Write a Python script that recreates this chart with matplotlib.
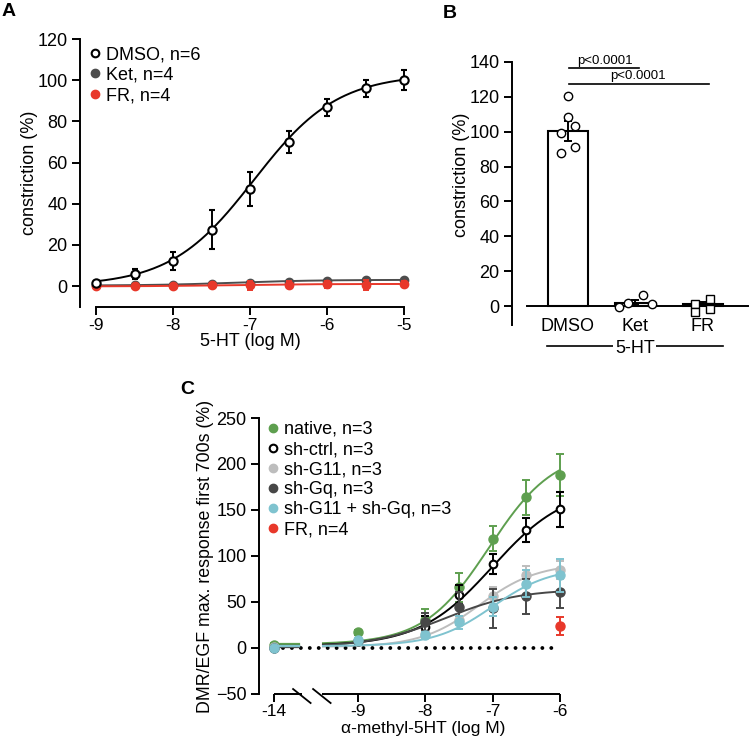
import numpy as np
import matplotlib
matplotlib.use('Agg')
import matplotlib.pyplot as plt
from matplotlib.lines import Line2D

plt.rcParams['font.family'] = ['Liberation Sans', 'DejaVu Sans']

W, H = 750, 742

# ---------------- Panel A data ----------------
a_dose = [-9, -8.5, -8, -7.5, -7, -6.5, -6, -5.5, -5]
a_dmso = [1.6, 5.8, 12.1, 27.4, 47.3, 69.8, 86.8, 96.0, 100.2]
a_dmso_err = [0.8, 2.4, 4.5, 9.5, 8.3, 5.4, 4.0, 4.2, 4.8]
a_ket = [0.5, 0.4, 0.6, 1.0, 1.6, 2.1, 2.3, 2.7, 2.8]
a_ket_err = [0.4, 0.4, 0.5, 0.6, 0.8, 0.9, 1.0, 1.1, 1.2]
a_fr = [-0.2, -0.1, 0.0, 0.5, 0.3, 0.6, 0.8, 0.6, 0.9]
a_fr_err = [0.5, 0.5, 0.6, 0.9, 2.0, 1.8, 1.6, 2.3, 1.6]
# fit parameters: bottom, top, logEC50, hill
a_fit_dmso = (0.0, 103.0, -6.95, 0.8)
a_fit_ket = (0.2, 3.0, -7.2, 0.8)
a_fit_fr = (-0.2, 1.0, -7.3, 0.8)
a_labels = ['DMSO, n=6', 'Ket, n=4', 'FR, n=4']

# ---------------- Panel B data ----------------
b_groups = ['DMSO', 'Ket', 'FR']
b_means = [100.5, 2.0, 1.0]
b_sem = [5.6, 1.4, 1.2]
b_dmso_pts = [120.5, 108.6, 99.3, 103.3, 88.0, 91.4]
b_dmso_jit = [0.0, 0.0, -0.11, 0.11, -0.11, 0.11]
b_ket_pts = [-0.4, 1.9, 6.3, 1.1]
b_ket_jit = [-0.24, -0.11, 0.11, 0.24]
b_fr_pts = [1.4, -3.2, 4.3, -1.6]
b_fr_jit = [-0.11, -0.11, 0.11, 0.11]
b_pvals = ['p<0.0001', 'p<0.0001']

# ---------------- Panel C data ----------------
c_dose = [-14, -9, -8, -7.5, -7, -6.5, -6]
c_native = [3, 17, 30, 66, 119, 164, 188]
c_native_err = [2, 3, 12, 16, 14, 19, 23]
c_ctrl = [0, 8, 23, 58, 91, 128, 151]
c_ctrl_err = [1, 2, 12, 10, 11, 13, 19]
c_g11 = [1, 8, 15, 30, 56, 79, 85]
c_g11_err = [1, 2, 4, 5, 10, 10, 10]
c_gq = [0, 8, 28, 45, 43, 56, 61]
c_gq_err = [1, 2, 10, 16, 21, 19, 17]
c_both = [0, 9, 14, 28, 45, 70, 79]
c_both_err = [1, 2, 3, 7, 10, 15, 18]
c_fr_dose = [-6]
c_fr = [24]
c_fr_err = [10]
c_fit_native = (4, 215, -7.05, 0.9)
c_fit_ctrl = (2, 175, -7.0, 0.8)
c_fit_g11 = (1, 92, -7.2, 1.0)
c_fit_gq = (1, 64, -7.7, 0.8)
c_fit_both = (2, 88, -7.0, 1.0)
c_labels = ['native, n=3', 'sh-ctrl, n=3', 'sh-G11, n=3', 'sh-Gq, n=3',
            'sh-G11 + sh-Gq, n=3', 'FR, n=4']
c_xticks = [-14, -9, -8, -7, -6]

GREEN = '#5e9f4f'
LGRAY = '#bdbdbd'
DGRAY = '#474747'
LBLUE = '#7fc3cf'
RED = '#e8382a'
KGRAY = '#4d4d4d'


def hill(x, p):
    b, t, ec, h = p
    return b + (t - b) / (1 + 10 ** ((ec - x) * h))


def fx(px):
    return px / W


def fy(py):
    return 1 - py / H


fig = plt.figure(figsize=(7.5, 7.42), dpi=100)

TICK = 13
LAB = 13
LW = 1.4

def style(ax):
    for s in ['top', 'right']:
        ax.spines[s].set_visible(False)
    for s in ['left', 'bottom']:
        ax.spines[s].set_linewidth(LW)
    ax.tick_params(direction='out', length=6, width=LW, labelsize=TICK, pad=3)

# ================= Panel A =================
axA = fig.add_axes([fx(80), fy(307), fx(404) - fx(80), fy(39) - fy(307)])
style(axA)
axA.set_xlim(-9.21, -5.0)
axA.set_ylim(-10.2, 120)
axA.spines['left'].set_bounds(-10.2, 120)
axA.spines['bottom'].set_bounds(-9, -5)
axA.set_yticks(range(0, 121, 20))
axA.set_xticks([-9, -8, -7, -6, -5])
axA.set_xticklabels(['-9', '-8', '-7', '-6', '-5'])
axA.tick_params(axis='x', pad=2, labelsize=12.5)
xs = np.linspace(-9, -5, 200)
axA.plot(xs, hill(xs, a_fit_ket), color=KGRAY, lw=1.4, clip_on=False, zorder=2)
axA.plot(xs, hill(xs, a_fit_fr), color=RED, lw=1.4, clip_on=False, zorder=3)
axA.plot(xs, hill(xs, a_fit_dmso), color='black', lw=1.4, clip_on=False, zorder=4)
axA.errorbar(a_dose, a_ket, yerr=a_ket_err, fmt='o', color=KGRAY, ms=6,
             capsize=2.5, elinewidth=1.4, capthick=1.4, clip_on=False, zorder=5)
axA.errorbar(a_dose, a_fr, yerr=a_fr_err, fmt='o', color=RED, ms=6,
             capsize=2.5, elinewidth=1.4, capthick=1.4, clip_on=False, zorder=6)
axA.errorbar(a_dose, a_dmso, yerr=a_dmso_err, fmt='o', color='black', mfc='white',
             mec='black', mew=1.5, ms=6, capsize=2.5, elinewidth=1.4, capthick=1.4,
             clip_on=False, zorder=7)
hA = [Line2D([], [], marker='o', ls='none', mfc='white', mec='black', mew=1.5, ms=5.5),
      Line2D([], [], marker='o', ls='none', color=KGRAY, ms=6),
      Line2D([], [], marker='o', ls='none', color=RED, ms=6)]
axA.legend(hA, a_labels, loc='upper left', bbox_to_anchor=(fx(88), fy(46)),
           bbox_transform=fig.transFigure, frameon=False, fontsize=LAB,
           handlelength=0.8, handletextpad=0.2, labelspacing=0.2,
           borderpad=0, borderaxespad=0)
fig.text(fx(29), fy(173), 'constriction (%)', rotation=90, ha='center', va='center',
         fontsize=LAB)
fig.text(fx(250), fy(333), '5-HT (log M)', ha='center', va='top', fontsize=LAB)
fig.text(fx(9), fy(12), 'A', ha='center', va='center', fontsize=14, fontweight='bold')

# ================= Panel B =================
axB = fig.add_axes([fx(512), fy(325), fx(748) - fx(512), fy(62) - fy(325)])
style(axB)
axB.spines['bottom'].set_visible(False)
axB.set_xlim(-0.83, 2.67)
axB.set_ylim(-10.9, 140)
axB.set_yticks(range(0, 141, 20))
axB.set_xticks([])
xpos = np.arange(len(b_groups))
axB.bar(xpos, b_means, width=0.6, color='white', edgecolor='black', linewidth=1.5,
        zorder=2)
axB.errorbar(xpos, b_means, yerr=b_sem, fmt='none', ecolor='black', elinewidth=1.4,
             capsize=3, capthick=1.4, zorder=4)
axB.plot([-0.61, 2.67], [0, 0], color='black', lw=1.4, clip_on=False, zorder=3)
axB.plot(xpos[0] + np.array(b_dmso_jit), b_dmso_pts, 'o', mfc='white', mec='black',
         mew=1.0, ms=6, zorder=5)
axB.plot(xpos[1] + np.array(b_ket_jit), b_ket_pts, 'o', mfc='white', mec='black',
         mew=1.0, ms=6, clip_on=False, zorder=5)
axB.plot(xpos[2] + np.array(b_fr_jit), b_fr_pts, 's', mfc='white', mec='black',
         mew=1.0, ms=5.5, clip_on=False, zorder=5)
for i, g in enumerate(b_groups):
    axB.text(xpos[i], -14.2, g, ha='center', va='baseline', fontsize=LAB, clip_on=False)
axB.plot([-0.31, 2.30], [-22.8, -22.8], color='black', lw=1.2, clip_on=False)
axB.text(0.99, -27.0, '5-HT', ha='center', va='baseline', fontsize=LAB,
         bbox=dict(facecolor='white', edgecolor='none', pad=1), clip_on=False)
axB.plot([0.02, 1.05], [136.4, 136.4], color='black', lw=1.2, clip_on=False)
axB.plot([0.02, 2.09], [127.2, 127.2], color='black', lw=1.2, clip_on=False)
axB.text(0.55, 137.3, b_pvals[0], ha='center', va='bottom', fontsize=9.5)
axB.text(1.04, 128.3, b_pvals[1], ha='center', va='bottom', fontsize=9.5)
fig.text(fx(462), fy(175), 'constriction (%)', rotation=90, ha='center', va='center',
         fontsize=LAB)
fig.text(fx(450), fy(13), 'B', ha='center', va='center', fontsize=14, fontweight='bold')

# ================= Panel C =================
XB = -10.25  # plotted position of -14 (broken axis)


def cpos(d):
    d = np.asarray(d, dtype=float)
    return np.where(d < -10, XB, d)


axC = fig.add_axes([fx(259), fy(694), fx(566) - fx(259), fy(418) - fy(694)])
style(axC)
axC.spines['bottom'].set_visible(False)
axC.set_xlim(-10.47, -5.91)
axC.set_ylim(-50, 250)
axC.set_yticks(range(-50, 251, 50))
axC.set_xticks(cpos(c_xticks))
axC.set_xticklabels([str(v) for v in c_xticks])
axC.tick_params(axis='x', length=6, width=LW, pad=1.5, labelsize=12.5)
# broken x axis line
x_s1 = -6 - (560 - 302) / 67.3
x_s2 = -6 - (560 - 322) / 67.3
axC.plot([XB, x_s1], [-50, -50], color='black', lw=LW, clip_on=False,
         solid_capstyle='butt')
axC.plot([x_s2, -6], [-50, -50], color='black', lw=LW, clip_on=False,
         solid_capstyle='butt')
for xm in (x_s1, x_s2):
    axC.plot([xm - 0.13, xm + 0.13], [-44.6, -59.8], color='black', lw=1.3,
             clip_on=False)
# zero dotted line
axC.plot([XB, -6], [0, 0], color='black', lw=2.8, ls=(0, (0.01, 2.29)),
         dash_capstyle='round', zorder=6)

series = [
    (c_native, c_native_err, c_fit_native, GREEN, 'filled'),
    (c_ctrl, c_ctrl_err, c_fit_ctrl, 'black', 'open'),
    (c_g11, c_g11_err, c_fit_g11, LGRAY, 'filled'),
    (c_gq, c_gq_err, c_fit_gq, DGRAY, 'filled'),
    (c_both, c_both_err, c_fit_both, LBLUE, 'filled'),
]
xc = np.linspace(-9.52, -6, 200)
for k, (vals, err, fit, col, kind) in enumerate(series):
    z = 3 + k
    axC.plot(xc, hill(xc, fit), color=col, lw=1.4, zorder=z)
    axC.plot([XB, XB + 0.38], [fit[0], fit[0]], color=col, lw=1.6, zorder=z)
    if kind == 'open':
        axC.errorbar(cpos(c_dose), vals, yerr=err, fmt='o', color=col, mfc='white',
                     mec=col, mew=1.5, ms=5.5, capsize=3, elinewidth=1.4, capthick=1.4,
                     zorder=z + 0.5, clip_on=False)
    else:
        axC.errorbar(cpos(c_dose), vals, yerr=err, fmt='o', color=col, ms=6.5,
                     capsize=3, elinewidth=1.4, capthick=1.4, zorder=z + 0.5,
                     clip_on=False)
axC.errorbar(cpos(c_fr_dose), c_fr, yerr=c_fr_err, fmt='o', color=RED, ms=6.5,
             capsize=3, elinewidth=1.4, capthick=1.4, zorder=10, clip_on=False)

hC = [Line2D([], [], marker='o', ls='none', color=GREEN, ms=6),
      Line2D([], [], marker='o', ls='none', mfc='white', mec='black', mew=1.5, ms=5.5),
      Line2D([], [], marker='o', ls='none', color=LGRAY, ms=6),
      Line2D([], [], marker='o', ls='none', color=DGRAY, ms=6),
      Line2D([], [], marker='o', ls='none', color=LBLUE, ms=6),
      Line2D([], [], marker='o', ls='none', color=RED, ms=6)]
axC.legend(hC, c_labels, loc='upper left', bbox_to_anchor=(fx(266), fy(421)),
           bbox_transform=fig.transFigure, frameon=False, fontsize=13,
           handlelength=0.8, handletextpad=0.2, labelspacing=0.17,
           borderpad=0, borderaxespad=0)
fig.text(fx(205), fy(556), 'DMR/EGF max. response first 700s (%)', rotation=90,
         ha='center', va='center', fontsize=12.8)
fig.text(fx(423), fy(721), 'α-methyl-5HT (log M)', ha='center', va='top',
         fontsize=12.5)
fig.text(fx(187), fy(389), 'C', ha='center', va='center', fontsize=14,
         fontweight='bold')

fig.savefig('out.png', dpi=100)
